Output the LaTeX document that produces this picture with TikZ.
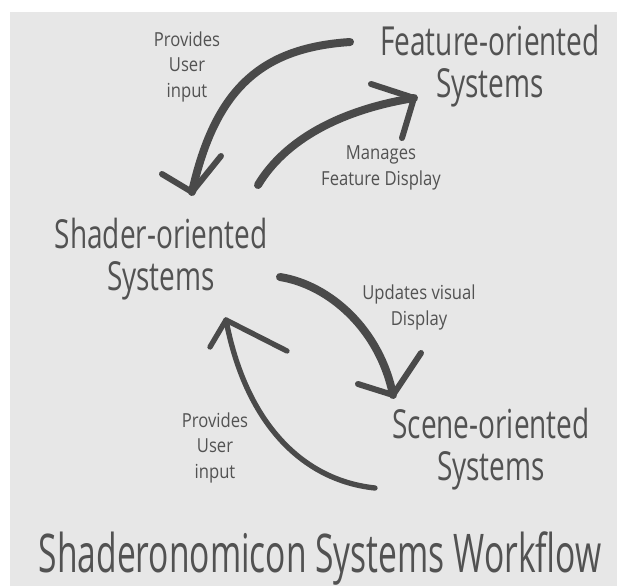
\documentclass[tikz,border=0pt]{standalone}
\usepackage{fontspec}
\setmainfont{Open Sans}[FakeStretch=0.7]
\newfontfamily\flowfont{Open Sans}[FakeStretch=0.86]
\newfontfamily\titlefont{Open Sans}[FakeStretch=0.63]
\usepackage{xcolor}
\usetikzlibrary{positioning}
\definecolor{bgcolor}{RGB}{231,231,231}
\definecolor{inkcolor}{RGB}{74,74,74}
\definecolor{labelcolor}{RGB}{82,82,82}
\tikzset{
  system label/.style={
    align=center,
    text=labelcolor,
    inner sep=0pt,
    anchor=base,
    font=\fontsize{30}{31.5}\selectfont
  },
  flow label/.style={
    system label,
    font=\flowfont\fontsize{14.5}{19}\selectfont
  },
  title label/.style={
    system label,
    font=\titlefont\fontsize{40}{42}\selectfont
  },
  brush/.style={
    draw=inkcolor,
    line width=6pt,
    line cap=round,
    line join=round
  },
  brush head/.style={
    brush,
    line width=4.5pt
  }
}
\begin{document}
\begin{tikzpicture}[x=0.75pt,y=-0.75pt]
  \useasboundingbox (0,0) rectangle (617,586);
  \fill[bgcolor] (10,12) rectangle (617,586);

  % Systems (base = last line)
  \node[system label] (feature) at (490,97) {Feature-oriented\\Systems};
  \node[system label] (shader) at (161,290) {Shader-oriented\\Systems};
  \node[system label] (scene) at (491,480) {Scene-oriented\\Systems};

  % Flow labels
  \node[flow label] (inputtop) at (187,97) {Provides\\User\\input};
  \node[flow label] (manages) at (381,185) {Manages\\Feature Display};
  \node[flow label] (updates) at (419,325) {Updates visual\\Display};
  \node[flow label] (inputbot) at (215,478) {Provides\\User\\input};

  % Title
  \node[title label] (title) at (320,572) {Shaderonomicon Systems Workflow};

  % Arrow ends
  \coordinate (a1s) at (350,42);  \coordinate (a1t) at (192,192);
  \coordinate (a1l) at (162,174); \coordinate (a1r) at (221,156);
  \coordinate (a2s) at (258,185); \coordinate (a2t) at (414,98);
  \coordinate (a2l) at (371,84);  \coordinate (a2r) at (402,138);
  \coordinate (a3s) at (280,277); \coordinate (a3t) at (393,395);
  \coordinate (a3l) at (358,384); \coordinate (a3r) at (421,353);
  \coordinate (a4s) at (375,488); \coordinate (a4t) at (226,320);
  \coordinate (a4l) at (210,347); \coordinate (a4r) at (287,351);

  % Shader <- Feature
  \draw[brush] (a1s) .. controls (260,48) and (215,90) .. (a1t);
  \draw[brush head] (a1l) -- (a1t) -- (a1r);

  % Shader -> Feature
  \draw[brush] (a2s) .. controls (285,140) and (340,110) .. (a2t);
  \draw[brush head] (a2l) -- (a2t) -- (a2r);

  % Shader -> Scene
  \draw[brush] (a3s) .. controls (330,285) and (380,330) .. (a3t);
  \draw[brush head] (a3l) -- (a3t) -- (a3r);

  % Scene -> Shader
  \draw[brush, line width=4pt] (a4s) .. controls (300,480) and (245,420) .. (a4t);
  \draw[brush head, line width=4pt] (a4l) -- (a4t) -- (a4r);
\end{tikzpicture}
\end{document}
